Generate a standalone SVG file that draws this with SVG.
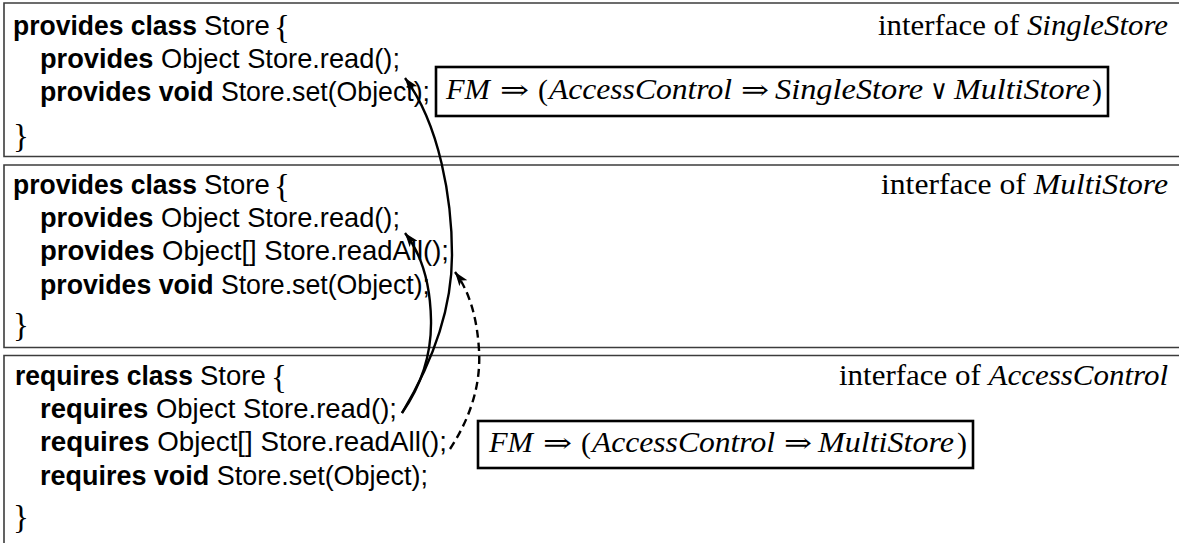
<svg xmlns="http://www.w3.org/2000/svg" width="1179" height="543" viewBox="0 0 1179 543">
  <style>
    .frame { fill: none; stroke: #3c3c3c; stroke-width: 1.6; }
    .code { font-family: "Liberation Sans", Arial, sans-serif; font-size: 27.5px; fill: #000; }
    .kw { font-weight: bold; }
    .brace { font-family: "Liberation Serif", "Times New Roman", serif; font-size: 33px; fill: #000; }
    .hdr { font-family: "Liberation Serif", "Times New Roman", serif; font-size: 28.5px; fill: #000; }
    .it { font-style: italic; }
    .math { font-family: "Liberation Serif", "Times New Roman", serif; font-style: italic; font-size: 28.5px; fill: #000; }
    .sym { font-family: "DejaVu Serif", "Liberation Serif", serif; font-size: 27px; fill: #000; }
    .par { font-family: "Liberation Serif", "Times New Roman", serif; font-size: 30px; fill: #000; }
    .box { fill: #fff; stroke: #000; stroke-width: 2.6; }
    .arrow { fill: none; stroke: #000; stroke-width: 2.4; marker-end: url(#tip); }
    .dashed { stroke-dasharray: 8 5; }
  </style>
  <defs>
    <marker id="tip" markerUnits="userSpaceOnUse" viewBox="0 0 14 10" refX="14" refY="5" markerWidth="14" markerHeight="10" orient="auto">
      <path d="M0,0 L14,5 L0,10 L3.5,5 z" fill="#000"/>
    </marker>
  </defs>

  <!-- interface of SingleStore -->
  <g id="single-store">
    <path class="frame" d="M1179,3 H4 V156.5 H1179"/>
    <text class="code kw" x="13" y="35" textLength="184" lengthAdjust="spacingAndGlyphs">provides class</text>
    <text class="code" x="204" y="35">Store</text>
    <text class="brace" x="274" y="38">{</text>
    <text class="code" x="40" y="68" textLength="360" lengthAdjust="spacingAndGlyphs"><tspan class="kw">provides</tspan> Object Store.read();</text>
    <text class="code" x="40" y="101" textLength="390" lengthAdjust="spacingAndGlyphs"><tspan class="kw">provides void</tspan> Store.set(Object);</text>
    <text class="brace" x="13" y="147">}</text>
    <text class="hdr" x="878" y="35" textLength="290" lengthAdjust="spacingAndGlyphs">interface of <tspan class="it">SingleStore</tspan></text>
  </g>

  <!-- interface of MultiStore -->
  <g id="multi-store">
    <path class="frame" d="M1179,165 H4 V347.5 H1179"/>
    <text class="code kw" x="13" y="194" textLength="184" lengthAdjust="spacingAndGlyphs">provides class</text>
    <text class="code" x="204" y="194">Store</text>
    <text class="brace" x="274" y="197">{</text>
    <text class="code" x="40" y="227" textLength="360" lengthAdjust="spacingAndGlyphs"><tspan class="kw">provides</tspan> Object Store.read();</text>
    <text class="code" x="40" y="260" textLength="409" lengthAdjust="spacingAndGlyphs"><tspan class="kw">provides</tspan> Object[] Store.readAll();</text>
    <text class="code" x="40" y="294" textLength="390" lengthAdjust="spacingAndGlyphs"><tspan class="kw">provides void</tspan> Store.set(Object);</text>
    <text class="brace" x="13" y="336">}</text>
    <text class="hdr" x="881" y="194" textLength="287" lengthAdjust="spacingAndGlyphs">interface of <tspan class="it">MultiStore</tspan></text>
  </g>

  <!-- interface of AccessControl -->
  <g id="access-control">
    <path class="frame" d="M1179,355.5 H4 V545"/>
    <text class="code kw" x="15" y="385" textLength="178" lengthAdjust="spacingAndGlyphs">requires class</text>
    <text class="code" x="200" y="385">Store</text>
    <text class="brace" x="271" y="388">{</text>
    <text class="code" x="40" y="418" textLength="357" lengthAdjust="spacingAndGlyphs"><tspan class="kw">requires</tspan> Object Store.read();</text>
    <text class="code" x="40" y="451" textLength="407" lengthAdjust="spacingAndGlyphs"><tspan class="kw">requires</tspan> Object[] Store.readAll();</text>
    <text class="code" x="40" y="485" textLength="388" lengthAdjust="spacingAndGlyphs"><tspan class="kw">requires void</tspan> Store.set(Object);</text>
    <text class="brace" x="13" y="528">}</text>
    <text class="hdr" x="839" y="385" textLength="329" lengthAdjust="spacingAndGlyphs">interface of <tspan class="it">AccessControl</tspan></text>
  </g>

  <!-- constraint: FM => (AccessControl => SingleStore v MultiStore) -->
  <g id="constraint-single-or-multi">
    <rect class="box" x="436" y="67" width="672" height="49"/>
    <text class="math" x="446" y="99" textLength="44" lengthAdjust="spacingAndGlyphs">FM</text>
    <text class="sym" x="500" y="99" textLength="29" lengthAdjust="spacingAndGlyphs">⇒</text>
    <text class="par" x="538" y="100">(</text>
    <text class="math" x="549" y="99" textLength="183" lengthAdjust="spacingAndGlyphs">AccessControl</text>
    <text class="sym" x="741" y="99" textLength="28" lengthAdjust="spacingAndGlyphs">⇒</text>
    <text class="math" x="775" y="99" textLength="148" lengthAdjust="spacingAndGlyphs">SingleStore</text>
    <text class="sym" x="930" y="99" textLength="18" lengthAdjust="spacingAndGlyphs">∨</text>
    <text class="math" x="954" y="99" textLength="136" lengthAdjust="spacingAndGlyphs">MultiStore</text>
    <text class="par" x="1092" y="100">)</text>
  </g>

  <!-- constraint: FM => (AccessControl => MultiStore) -->
  <g id="constraint-multi">
    <rect class="box" x="478" y="421" width="495" height="47"/>
    <text class="math" x="489" y="452" textLength="44" lengthAdjust="spacingAndGlyphs">FM</text>
    <text class="sym" x="543" y="452" textLength="29" lengthAdjust="spacingAndGlyphs">⇒</text>
    <text class="par" x="581" y="453">(</text>
    <text class="math" x="592" y="452" textLength="183" lengthAdjust="spacingAndGlyphs">AccessControl</text>
    <text class="sym" x="784" y="452" textLength="28" lengthAdjust="spacingAndGlyphs">⇒</text>
    <text class="math" x="818" y="452" textLength="136" lengthAdjust="spacingAndGlyphs">MultiStore</text>
    <text class="par" x="957" y="453">)</text>
  </g>

  <!-- required members resolved against provided members -->
  <g id="connectors">
    <path class="arrow" d="M402,413 Q452,330 452,255 C452,200 440,125 405,78"/>
    <path class="arrow" d="M402,413 Q432,370 431,320 Q430,265 405,233"/>
    <path class="arrow dashed" d="M450,449 Q482,400 479,350 Q476,300 455,272"/>
  </g>
</svg>
